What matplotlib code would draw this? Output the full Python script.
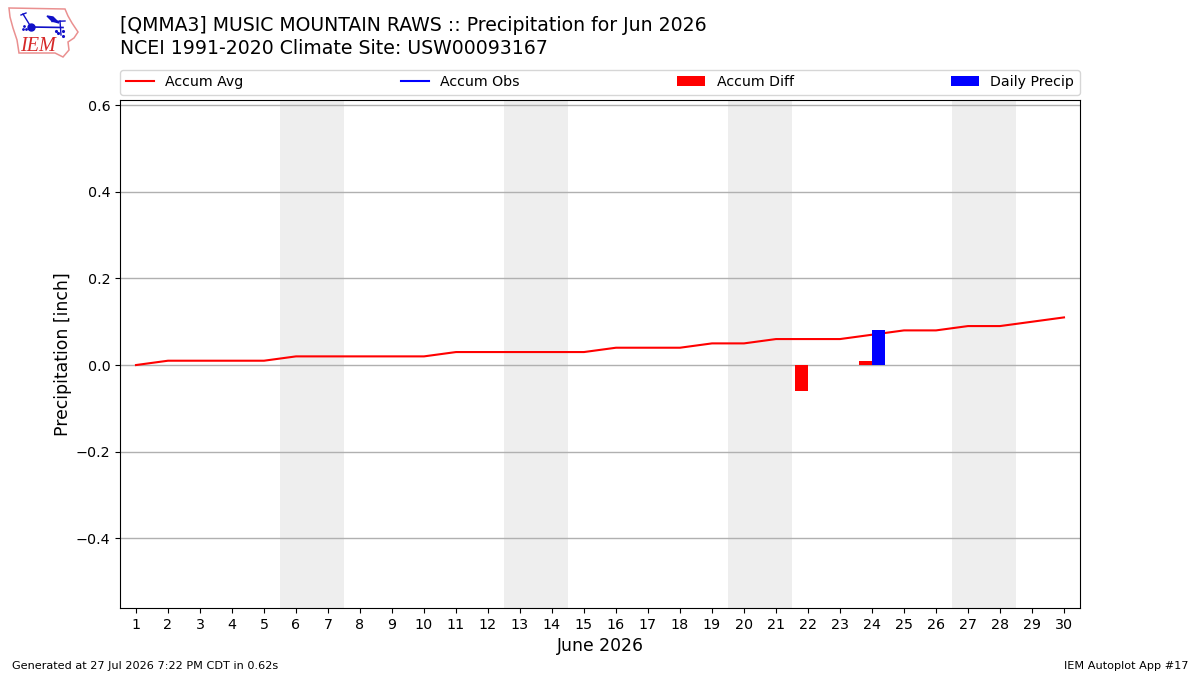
import numpy as np
import matplotlib
matplotlib.use("Agg")
import matplotlib.pyplot as plt
from matplotlib.patches import Polygon

# Datos del mes
dias = np.arange(1, 31)
accum_avg = [0.00, 0.01, 0.01, 0.01, 0.01, 0.02, 0.02, 0.02, 0.02, 0.02,
             0.03, 0.03, 0.03, 0.03, 0.03, 0.04, 0.04, 0.04, 0.05, 0.05,
             0.06, 0.06, 0.06, 0.07, 0.08, 0.08, 0.09, 0.09, 0.10, 0.11]
accum_obs = []
dias_diff = [22, 24]
accum_diff = [-0.06, 0.01]
dias_lluvia = [24]
daily_precip = [0.08]
fines_semana = [6, 13, 20, 27]

fig = plt.figure(figsize=(12, 6.75), dpi=100)
ax = fig.add_axes([120 / 1200, 1 - 608 / 675, 960 / 1200, 508 / 675])

# Sombreado de fines de semana
for d in fines_semana:
    ax.axvspan(d - 0.5, d + 1.5, color="#eeeeee", lw=0, zorder=0)

ax.grid(True, axis="y", color="#b0b0b0", lw=1.0, zorder=1)
ax.set_axisbelow(True)

ax.plot(dias, accum_avg, color="red", lw=1.5, label="Accum Avg", zorder=3)
ax.plot(dias[:len(accum_obs)], accum_obs, color="blue", lw=1.5, label="Accum Obs", zorder=3)
ax.bar(dias_diff, accum_diff, width=-0.4, align="edge", color="red", label="Accum Diff", zorder=2)
ax.bar(dias_lluvia, daily_precip, width=0.4, align="edge", color="blue", label="Daily Precip", zorder=4)

ax.set_xlim(0.5, 30.5)
ax.set_ylim(-0.561, 0.612)
ax.set_xticks(dias)
ax.set_yticks([-0.4, -0.2, 0.0, 0.2, 0.4, 0.6])
ax.tick_params(labelsize=10.3)
ax.set_xlabel("June 2026", fontsize=12.4)
ax.set_ylabel("Precipitation [inch]", fontsize=12.4, labelpad=2.5)

ax.legend(loc="lower left", bbox_to_anchor=(0, 1 + 5 / 508, 1, 26 / 508), ncol=4, mode="expand",
          borderaxespad=0, fontsize=10.2)

# Titulos y pie
fig.text(120 / 1200, 1 - 31 / 675, "[QMMA3] MUSIC MOUNTAIN RAWS :: Precipitation for Jun 2026", fontsize=13.56)
fig.text(120 / 1200, 1 - 54 / 675, "NCEI 1991-2020 Climate Site: USW00093167", fontsize=13.56)
fig.text(12 / 1200, 1 - 669 / 675, "Generated at 27 Jul 2026 7:22 PM CDT in 0.62s", fontsize=8.12)
fig.text(1188 / 1200, 1 - 669 / 675, "IEM Autoplot App #17", fontsize=8.12, ha="right")

# Logo: contorno del estado y simbolo de viento
logo = fig.add_axes([0, 1 - 60 / 675, 90 / 1200, 60 / 675])
logo.set_xlim(0, 90)
logo.set_ylim(60, 0)
logo.axis("off")
contorno = [(9, 8), (65, 9), (68, 16), (72, 23), (78, 32), (74, 38), (68, 42), (69, 50),
            (63, 57), (55, 53), (19, 53), (17, 40), (13, 28), (10, 17)]
logo.add_patch(Polygon(contorno, closed=True, fill=False, ec="#ea9090", lw=1.1))
logo.text(20.5, 51, "IEM", family="Liberation Serif", style="italic", color="#d62828", fontsize=14.5)
logo.plot([31, 63], [27, 27.5], color="#1010c8", lw=1.2)
logo.plot([31, 23], [27, 14], color="#1010c8", lw=1.0)
logo.plot([21, 26], [15, 13], color="#1010c8", lw=1.0)
logo.plot([31], [27], "o", color="#1010c8", ms=5)
logo.plot([24, 26, 23], [26, 29, 29], ".", color="#1010c8", ms=2)
logo.add_patch(Polygon([(47, 16), (53, 17), (59, 23), (52, 21)], closed=True, color="#1010c8"))
logo.plot([52, 65], [21.5, 21], color="#1010c8", lw=1.0)
logo.plot([60, 61], [21, 35], color="#1010c8", lw=1.0)
logo.plot([56, 58, 63, 63], [31, 33, 31, 36], ".", color="#1010c8", ms=2.5)

fig.savefig("out.png", dpi=100)
